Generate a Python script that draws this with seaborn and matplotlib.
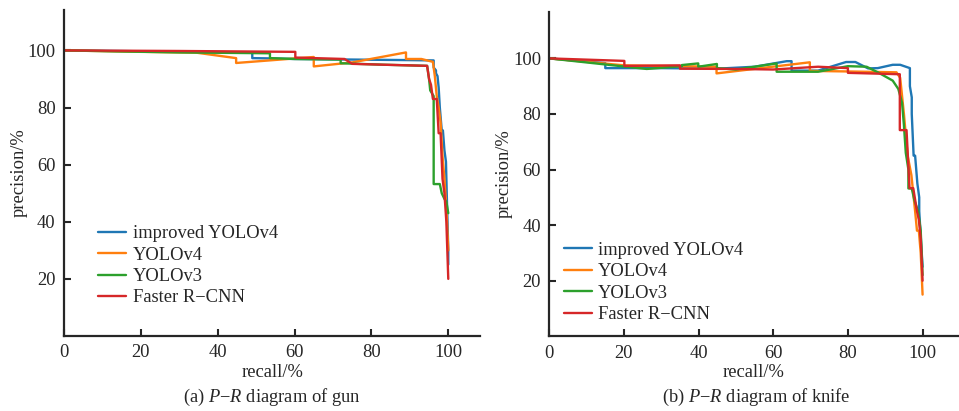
import matplotlib
matplotlib.use("Agg")
import matplotlib.pyplot as plt
import seaborn as sns
import pandas as pd

# P-R curves (recall %, precision %)
models = ['improved YOLOv4', 'YOLOv4', 'YOLOv3', 'Faster R\u2212CNN']
colores = ['#1f77b4', '#ff7f0e', '#2ca02c', '#d62728']

# (a) gun
gun_improved_r = [0, 20, 49, 49, 54, 60, 75, 90, 96.2, 96.2, 96.8, 96.8, 97.2, 97.5, 97.8, 98.3, 98.6, 99, 99.4, 99.6, 100, 100]
gun_improved_p = [100, 99.7, 99.3, 97.3, 97.2, 97.0, 96.8, 96.6, 96.5, 94, 93, 92, 91, 87, 80, 72, 72, 65, 61, 50, 30, 25]
gun_v4_r = [0, 20, 34.5, 44.8, 44.8, 65, 65, 75, 89, 89, 93, 96, 96.5, 97, 97.5, 98, 98.5, 99, 99.5, 100]
gun_v4_p = [100, 99.5, 99.2, 97.3, 95.6, 97.7, 94.4, 95.8, 99.3, 97, 97, 96, 91, 84, 80, 75, 63, 55, 45, 30]
gun_v3_r = [0, 30, 53.6, 53.6, 60, 72, 72, 83, 94.5, 95, 95.3, 96.2, 96.2, 97.8, 98.3, 99, 99.5, 100]
gun_v3_p = [100, 99.3, 99.0, 97.3, 97, 96.8, 95.5, 95, 94.6, 90, 86, 84, 53.2, 53.2, 50, 48, 47, 43]
gun_rcnn_r = [0, 30, 60.2, 60.2, 73, 75, 83, 94.5, 95, 95.5, 96, 97, 97.5, 98, 98.5, 99, 99.5, 100]
gun_rcnn_p = [100, 99.8, 99.5, 97.5, 97, 95.3, 95, 94.6, 90, 88, 83, 83, 71, 71, 55, 50, 40, 20]

# (b) knife
knife_improved_r = [0, 15, 15, 30, 45, 55, 63.6, 64.9, 64.9, 72, 79.5, 82, 85.4, 88, 92, 94, 96.6, 96.6, 97.1, 97.1, 97.6, 98, 98.6, 99.1, 99.1, 100]
knife_improved_p = [100, 98.3, 96.5, 96.5, 96.3, 97, 99.0, 99.0, 95.6, 95.6, 98.7, 98.7, 96.4, 96.5, 97.7, 97.7, 96.5, 90, 86, 80, 65, 65, 55, 50, 45, 25]
knife_v4_r = [0, 20, 35, 44.8, 44.8, 69.8, 69.8, 80, 93, 94, 95, 96, 97, 98, 98.5, 99, 99.5, 100]
knife_v4_p = [100, 97.5, 97.2, 97, 94.6, 98.6, 95.5, 95.3, 95, 93, 80, 65, 58, 45, 38, 38, 30, 15]
knife_v3_r = [0, 26.1, 35.5, 35.5, 39.9, 39.9, 44.9, 44.9, 50, 60.9, 60.9, 72, 80, 85, 88, 92, 93.5, 94.5, 95, 95.5, 96.2, 96.2, 97.1, 97.8, 98.8, 99.5, 100]
knife_v3_p = [100, 96.2, 97.2, 97.6, 98.2, 97, 98, 96.5, 96, 98.2, 95.2, 95.2, 97.2, 97, 95, 92, 89, 84, 76, 66, 60, 53.2, 53.2, 49, 45, 38, 22]
knife_rcnn_r = [0, 20.1, 20.1, 35, 35, 50, 60, 72, 80, 80, 93.9, 93.9, 95.7, 96.5, 97.5, 98.5, 99, 99.5, 100]
knife_rcnn_p = [100, 99.1, 97.3, 97.5, 96.3, 96.2, 96, 97, 96.5, 94.8, 94.3, 74.2, 74.2, 53.3, 53.3, 45, 42, 35, 20]

gun = [(gun_improved_r, gun_improved_p), (gun_v4_r, gun_v4_p), (gun_v3_r, gun_v3_p), (gun_rcnn_r, gun_rcnn_p)]
knife = [(knife_improved_r, knife_improved_p), (knife_v4_r, knife_v4_p), (knife_v3_r, knife_v3_p), (knife_rcnn_r, knife_rcnn_p)]


def montar_df(curvas):
    partes = []
    for nome, (r, p) in zip(models, curvas):
        partes.append(pd.DataFrame({'recall': r, 'precision': p, 'model': nome}))
    return pd.concat(partes, ignore_index=True)


sns.set_style('ticks')
plt.rcParams['font.family'] = ['Liberation Serif', 'DejaVu Serif']
plt.rcParams['mathtext.fontset'] = 'custom'
plt.rcParams['mathtext.rm'] = 'Liberation Serif'
plt.rcParams['mathtext.it'] = 'Liberation Serif:italic'
fs = 13.3
plt.rcParams['font.size'] = fs

fig = plt.figure(figsize=(9.59, 4.11), dpi=100)
ax1 = fig.add_axes([0.0667, 0.1825, 0.434, 0.7935])
ax2 = fig.add_axes([0.5728, 0.1818, 0.4262, 0.7897])

paineis = [
    (ax1, gun, (0, 108.3), (0, 114.2), '(a) $P$\u2212$R$ diagram of gun', (0.065, 0.068), 0.2836),
    (ax2, knife, (0, 109.5), (0, 116.8), '(b) $P$\u2212$R$ diagram of knife', (0.018, 0.018), 0.789),
]

for ax, curvas, xl, yl, legenda, pos, xc in paineis:
    df = montar_df(curvas)
    sns.lineplot(data=df, x='recall', y='precision', hue='model', hue_order=models,
                 palette=colores, sort=False, estimator=None, linewidth=1.7, ax=ax)
    ax.set_xlim(*xl)
    ax.set_ylim(*yl)
    ax.set_xticks([0, 20, 40, 60, 80, 100])
    ax.set_yticks([20, 40, 60, 80, 100])
    ax.tick_params(direction='in', length=5, width=1.5, labelsize=fs, pad=6)
    for s in ['left', 'bottom']:
        ax.spines[s].set_linewidth(1.6)
    sns.despine(ax=ax)
    ax.set_xlabel('recall/%', fontsize=fs, labelpad=2)
    ax.set_ylabel('precision/%', fontsize=fs, labelpad=0)
    h, l = ax.get_legend_handles_labels()
    ax.legend(h, l, loc='lower left', bbox_to_anchor=pos, frameon=False, fontsize=fs,
              handlelength=1.5, handletextpad=0.35, labelspacing=0.24, borderaxespad=0)
    fig.text(xc, 0.034, legenda, ha='center', va='center', fontsize=fs)

fig.savefig('out.png', dpi=100)
